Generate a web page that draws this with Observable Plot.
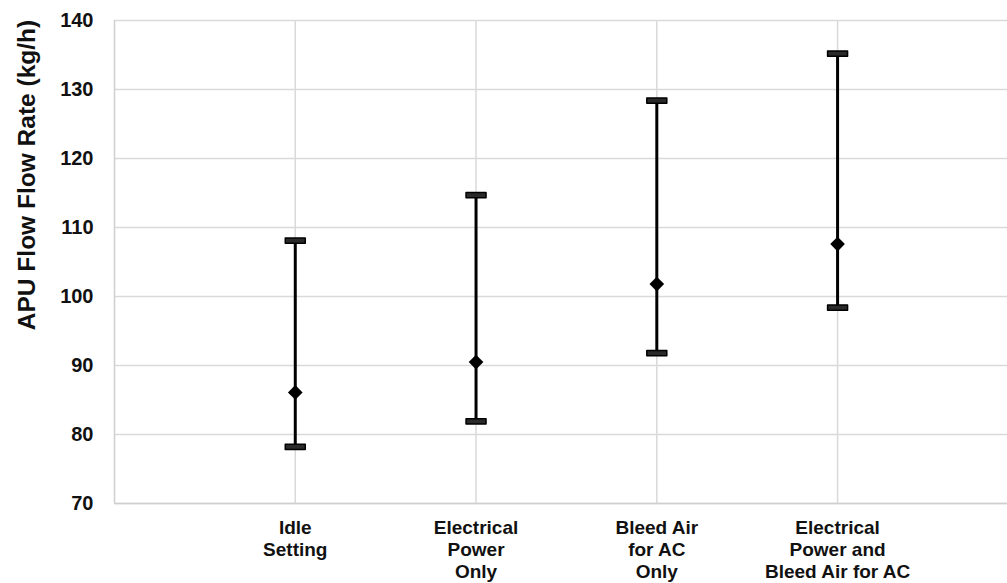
<!DOCTYPE html>
<html>
<head>
<meta charset="utf-8">
<script src="https://cdn.jsdelivr.net/npm/d3@7"></script>
<script src="https://cdn.jsdelivr.net/npm/@observablehq/plot@0.6"></script>
<style>
  html, body { margin: 0; padding: 0; background: #fff; }
  #chart svg { display: block; font-family: "Liberation Sans", Arial, sans-serif; }
</style>
</head>
<body>
<div id="chart"></div>
<script>
const categories = ["Idle\nSetting", "Electrical\nPower\nOnly", "Bleed Air\nfor AC\nOnly", "Electrical\nPower and\nBleed Air for AC"];
const meanValues = [86.1, 90.5, 101.8, 107.6];
const lowValues = [78.2, 81.9, 91.8, 98.4];
const highValues = [108.1, 114.7, 128.4, 135.2];
const yTicks = [70, 80, 90, 100, 110, 120, 130, 140];
const yLabel = "APU Flow Flow Rate (kg/h)";

const data = categories.map((c, i) => ({
  pos: i + 1,
  cat: c,
  mean: meanValues[i],
  low: lowValues[i],
  high: highValues[i]
}));

const capSymbol = {
  draw(ctx) {
    ctx.moveTo(-10, -2.6);
    ctx.lineTo(10, -2.6);
    ctx.lineTo(10, 2.6);
    ctx.lineTo(-10, 2.6);
    ctx.closePath();
  }
};

const gridColor = "#d9d9d9";

const chart = Plot.plot({
  width: 1007,
  height: 583,
  marginLeft: 114,
  marginRight: 0,
  marginTop: 20,
  marginBottom: 80,
  style: { fontFamily: "'Liberation Sans', Arial, sans-serif", background: "#fff" },
  x: { type: "linear", domain: [0, 4.94] },
  y: { domain: [70, 140] },
  marks: [
    Plot.gridY(yTicks, { stroke: gridColor, strokeOpacity: 1, strokeWidth: 1.5 }),
    Plot.gridX(data.map(d => d.pos), { stroke: gridColor, strokeOpacity: 1, strokeWidth: 1.5 }),
    Plot.ruleX([0], { stroke: "#cfcfcf", strokeWidth: 1.5 }),
    Plot.ruleY([70], { stroke: "#cfcfcf", strokeWidth: 1.5 }),
    Plot.axisY(yTicks, {
      tickSize: 0,
      tickPadding: 21,
      fontSize: 20,
      fontWeight: "bold",
      fill: "#111",
      label: null
    }),
    Plot.axisX(data.map(d => d.pos), {
      tickSize: 0,
      tickPadding: 15,
      tickFormat: v => categories[v - 1],
      fontSize: 19,
      fontWeight: "bold",
      lineHeight: 1.16,
      fill: "#111",
      label: null
    }),
    Plot.text([yLabel], {
      text: d => d,
      frameAnchor: "left",
      textAnchor: "middle",
      rotate: -90,
      dx: -87,
      dy: -87,
      fontSize: 24.5,
      fontWeight: "bold",
      fill: "#111"
    }),
    Plot.ruleX(data, { x: "pos", y1: "low", y2: "high", stroke: "#000", strokeWidth: 3 }),
    Plot.dot(data, { x: "pos", y: "high", symbol: capSymbol, fill: "#2a2a2a", stroke: "#000", strokeWidth: 1.5, strokeLinejoin: "round" }),
    Plot.dot(data, { x: "pos", y: "low", symbol: capSymbol, fill: "#2a2a2a", stroke: "#000", strokeWidth: 1.5, strokeLinejoin: "round" }),
    Plot.dot(data, { x: "pos", y: "mean", symbol: "diamond2", r: 6.6, fill: "#000", stroke: "none" })
  ]
});

document.getElementById("chart").appendChild(chart);
</script>
</body>
</html>
